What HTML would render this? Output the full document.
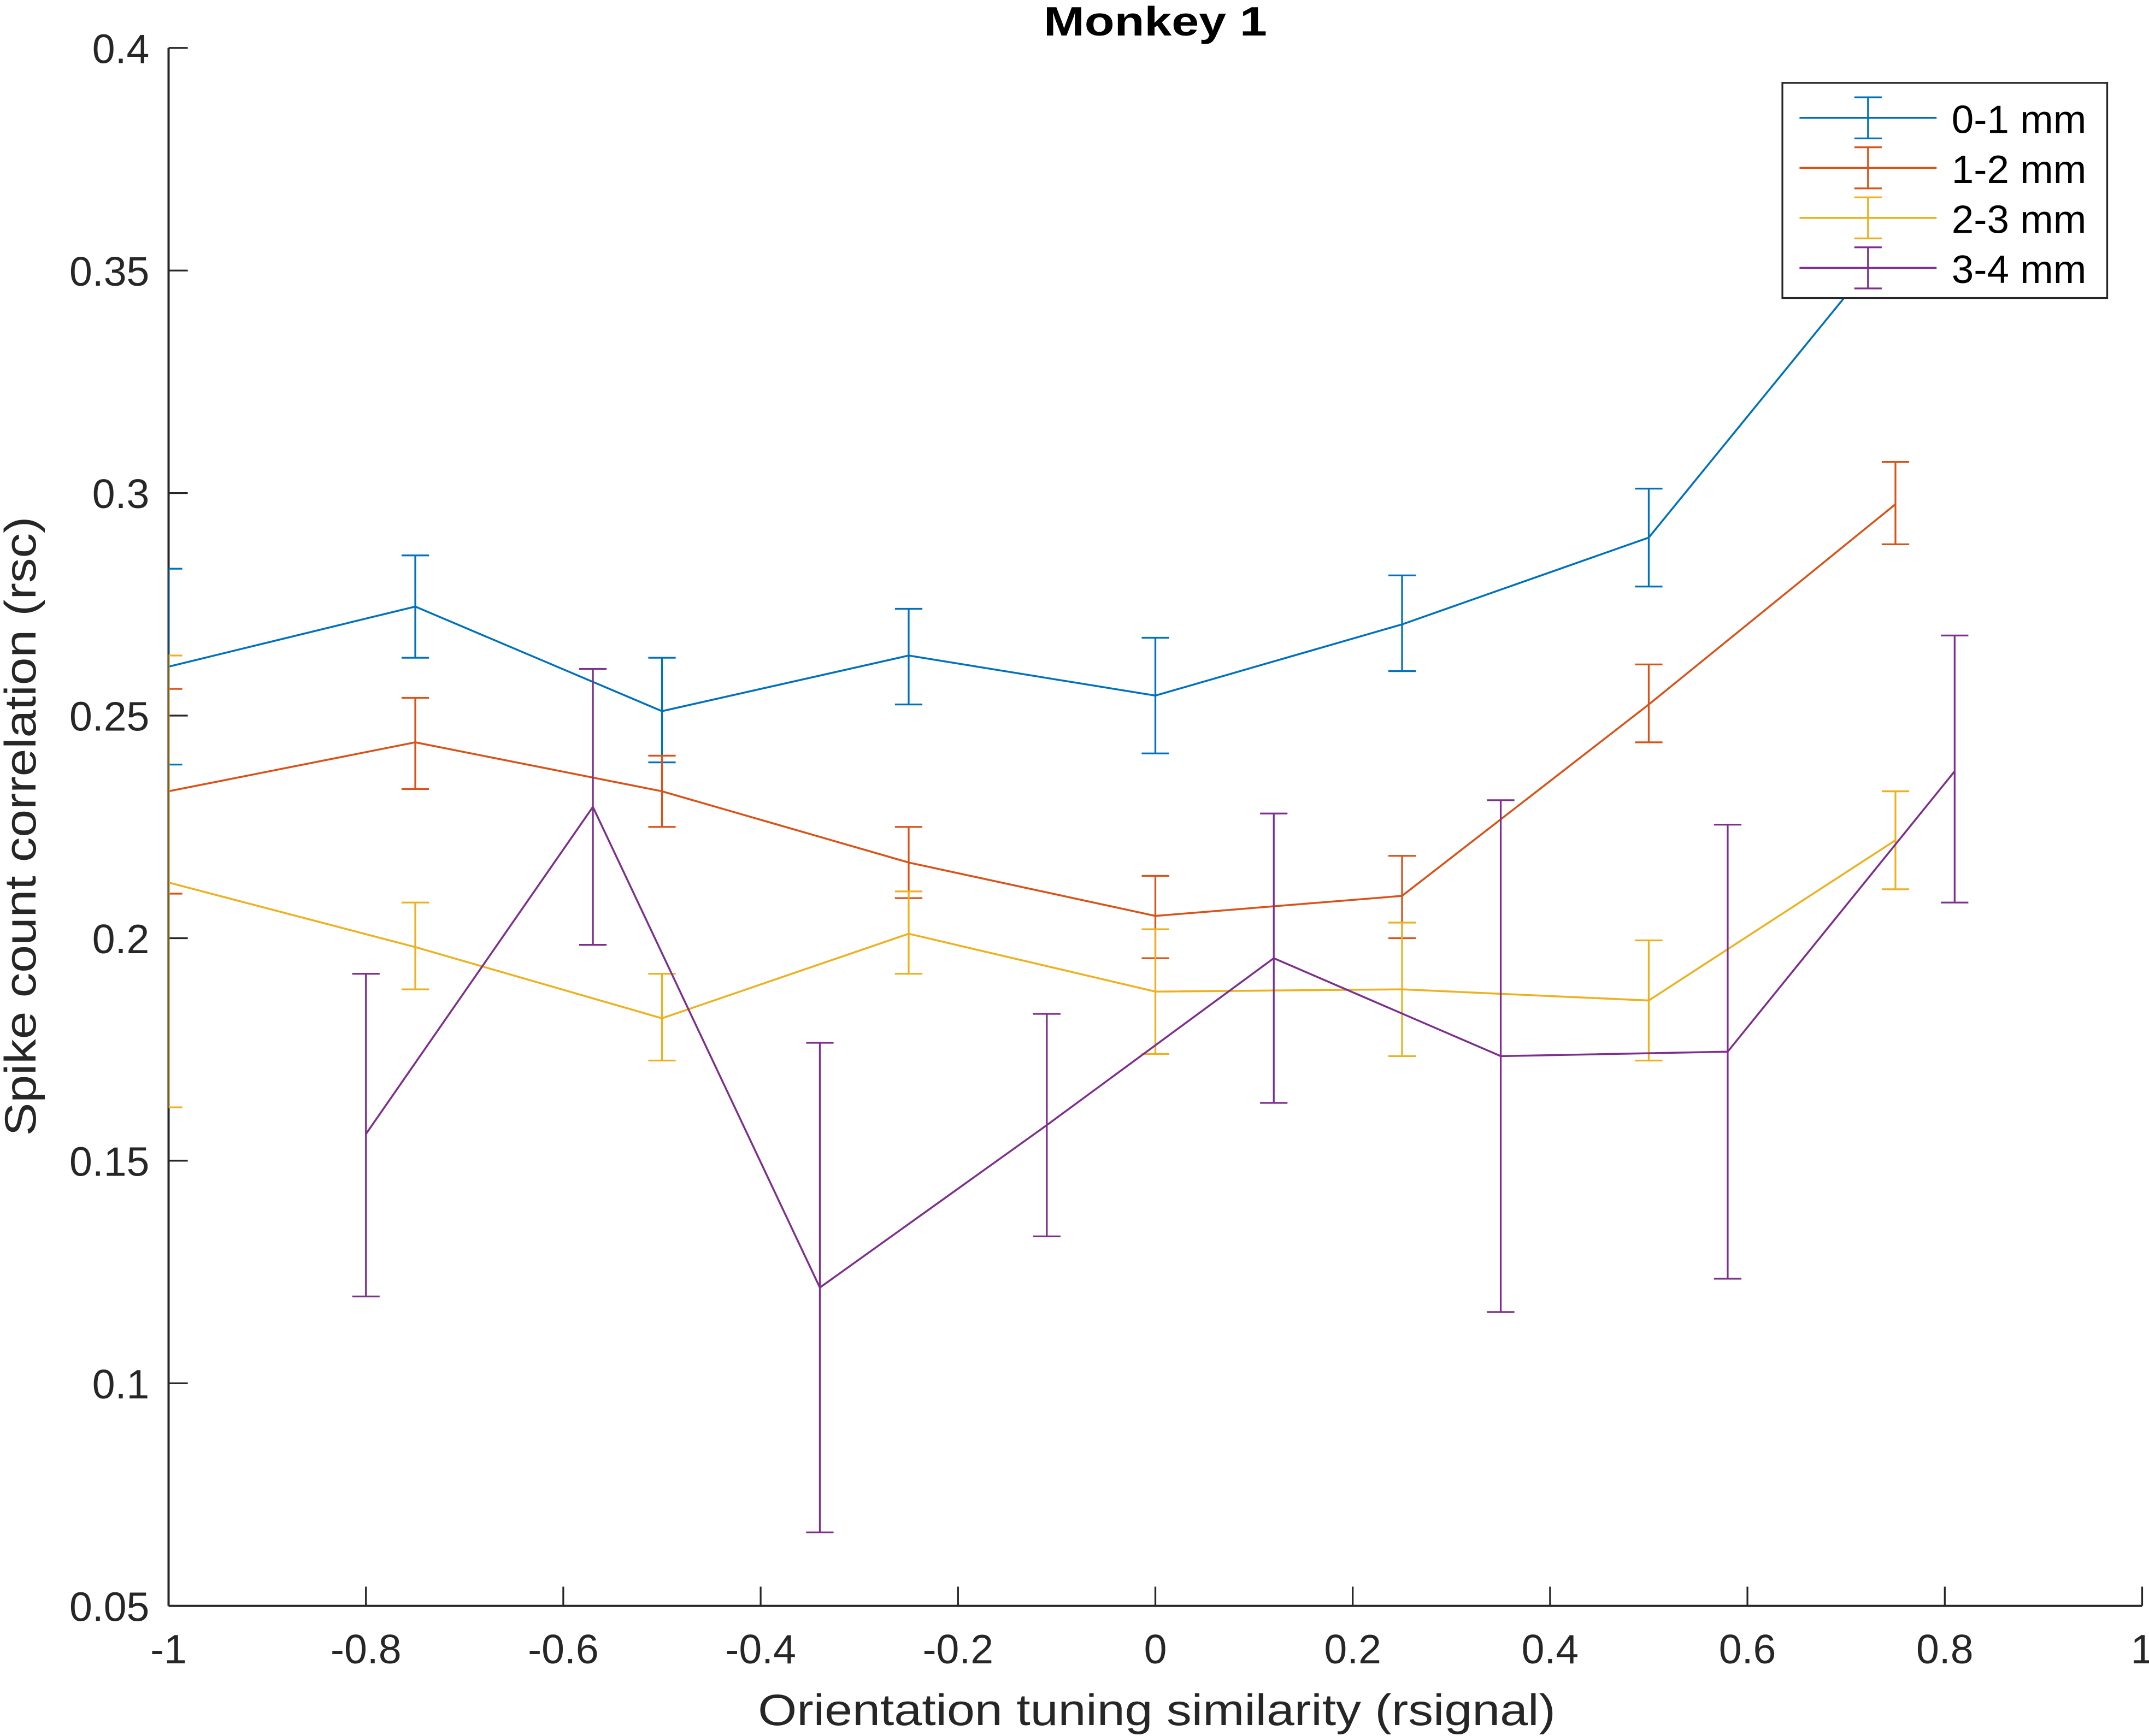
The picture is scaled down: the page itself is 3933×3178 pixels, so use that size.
<!DOCTYPE html>
<html><head><meta charset="utf-8"><style>
html,body{margin:0;padding:0;background:#fff;}
svg{display:block;}
text{font-family:"Liberation Sans",Arial,sans-serif;}
</style></head><body>
<svg id="chart" width="3933" height="3178" viewBox="0 0 1568 1267" xmlns="http://www.w3.org/2000/svg">
<defs><clipPath id="plotclip"><rect x="123" y="35" width="1440" height="1137"/></clipPath></defs>
<rect x="0" y="0" width="1568" height="1267" fill="#fff"/>
<g id="axes"></g>
<g id="series" clip-path="url(#plotclip)"></g>
<g id="legend"></g>
<text x="843" y="26" text-anchor="middle" font-size="30" font-weight="bold" textLength="163" lengthAdjust="spacingAndGlyphs">Monkey 1</text>
<text x="844" y="1259" text-anchor="middle" font-size="32" fill="#262626" textLength="582" lengthAdjust="spacingAndGlyphs">Orientation tuning similarity (rsignal)</text>
<text transform="translate(26,603) rotate(-90)" text-anchor="middle" font-size="32" fill="#262626" textLength="452" lengthAdjust="spacingAndGlyphs">Spike count correlation (rsc)</text>
</svg>
<script>
const xTicks = [-1,-0.8,-0.6,-0.4,-0.2,0,0.2,0.4,0.6,0.8,1];
const xTickLabels = ["-1","-0.8","-0.6","-0.4","-0.2","0","0.2","0.4","0.6","0.8","1"];
const yTicks = [0.05,0.1,0.15,0.2,0.25,0.3,0.35,0.4];
const yTickLabels = ["0.05","0.1","0.15","0.2","0.25","0.3","0.35","0.4"];
const seriesNames = ["0-1 mm","1-2 mm","2-3 mm","3-4 mm"];
const seriesColors = ["#0072BD","#D95319","#EDB120","#7E2F8E"];
const xA = [-1,-0.75,-0.5,-0.25,0,0.25,0.5,0.75];
const xD = [-0.8,-0.57,-0.34,-0.11,0.12,0.35,0.58,0.81];
const y01 = [0.261,0.2745,0.251,0.2635,0.2545,0.2705,0.290,0.358];
const lo01 = [0.239,0.263,0.2395,0.2525,0.2415,0.260,0.279,0.347];
const hi01 = [0.283,0.286,0.263,0.274,0.2675,0.2815,0.301,0.369];
const y12 = [0.233,0.244,0.233,0.217,0.205,0.2095,0.2525,0.2975];
const lo12 = [0.210,0.2335,0.225,0.209,0.1955,0.200,0.244,0.2885];
const hi12 = [0.256,0.254,0.241,0.225,0.214,0.2185,0.2615,0.307];
const y23 = [0.2125,0.198,0.182,0.201,0.188,0.1885,0.186,0.222];
const lo23 = [0.162,0.1885,0.1725,0.192,0.174,0.1735,0.1725,0.211];
const hi23 = [0.2635,0.208,0.192,0.2105,0.202,0.2035,0.1995,0.233];
const y34 = [0.156,0.2295,0.1215,0.158,0.1955,0.1735,0.1745,0.2375];
const lo34 = [0.1195,0.1985,0.0665,0.133,0.163,0.116,0.1235,0.208];
const hi34 = [0.192,0.2605,0.1765,0.183,0.228,0.231,0.2255,0.268];

const NS="http://www.w3.org/2000/svg";
const X0=123,X1=1563,Y0=1172,Y1=35;
function sx(v){return X0+(v+1)/2*(X1-X0);}
function sy(v){return Y0-(v-0.05)/0.35*(Y0-Y1);}
function mk(tag,attrs,parent){const e=document.createElementNS(NS,tag);for(const k in attrs)e.setAttribute(k,attrs[k]);parent.appendChild(e);return e;}

const axes=document.getElementById('axes');
let e;
e=mk('line',{x1:X0,y1:Y0,x2:X1,y2:Y0,stroke:'#262626','stroke-width':1.6},axes);


e=mk('line',{x1:X0,y1:Y0,x2:X0,y2:Y1,stroke:'#262626','stroke-width':1.6},axes);


xTicks.forEach((t,i)=>{
  const x=sx(t);
  let l=mk('line',{x1:x,y1:Y0,x2:x,y2:Y0-14,stroke:'#262626','stroke-width':1.3},axes);
  
  
  let tx=mk('text',{x:x,y:1214,'text-anchor':'middle','font-size':30,fill:'#262626'},axes);
  tx.textContent=xTickLabels[i];
  
  
});
yTicks.forEach((t,i)=>{
  const y=sy(t);
  let l=mk('line',{x1:X0,y1:y,x2:X0+14,y2:y,stroke:'#262626','stroke-width':1.3},axes);
  
  
  let tx=mk('text',{x:109,y:y+11,'text-anchor':'end','font-size':30,fill:'#262626'},axes);
  tx.textContent=yTickLabels[i];
  
  
});

const series=[[xA,y01,lo01,hi01],[xA,y12,lo12,hi12],[xA,y23,lo23,hi23],[xD,y34,lo34,hi34]];
const sg=document.getElementById('series');
series.forEach((s,k)=>{
  const [xs,ys,lo,hi]=s;const c=seriesColors[k];
  const g=mk('g',{},sg);
  
  
  const pts=xs.map((x,i)=>sx(x)+','+sy(ys[i])).join(' ');
  let pl=mk('polyline',{points:pts,fill:'none',stroke:c,'stroke-width':1.4},g);
  
  
  xs.forEach((x,i)=>{
    const px=sx(x),a=sy(lo[i]),b=sy(hi[i]);
    const eg=mk('g',{stroke:c,'stroke-width':1.3},g);
    
    
    mk('line',{x1:px,y1:a,x2:px,y2:b},eg);
    mk('line',{x1:px-10,y1:a,x2:px+10,y2:a},eg);
    mk('line',{x1:px-10,y1:b,x2:px+10,y2:b},eg);
  });
});

const lg=document.getElementById('legend');
let box=mk('rect',{x:1300.5,y:60.5,width:237,height:157,fill:'#fff',stroke:'#262626','stroke-width':1.3},lg);


seriesNames.forEach((n,k)=>{
  const y=86+k*36.5,c=seriesColors[k];
  const g=mk('g',{},lg);
  
  
  mk('line',{x1:1313,y1:y,x2:1413,y2:y,stroke:c,'stroke-width':1.4},g);
  mk('line',{x1:1363,y1:y-15,x2:1363,y2:y+15,stroke:c,'stroke-width':1.3},g);
  mk('line',{x1:1353,y1:y-15,x2:1373,y2:y-15,stroke:c,'stroke-width':1.3},g);
  mk('line',{x1:1353,y1:y+15,x2:1373,y2:y+15,stroke:c,'stroke-width':1.3},g);
  const t=mk('text',{x:1424,y:y+11,'font-size':29,fill:'#000'},g);
  t.textContent=n;
});
</script>
</body></html>
